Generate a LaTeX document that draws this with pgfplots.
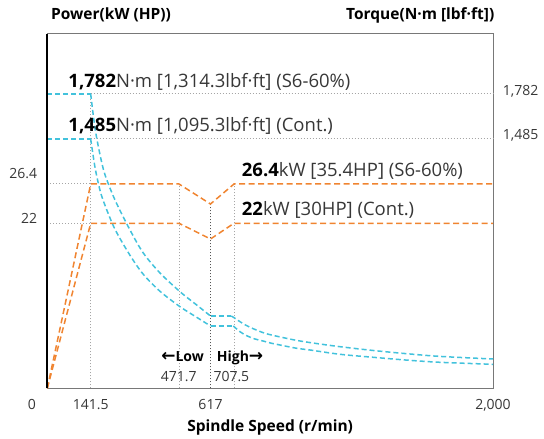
\documentclass[border=0pt]{standalone}
\usepackage{pgfplots}
\pgfplotsset{compat=1.18}
\usepackage{fontspec}
\setmainfont{Open Sans}
\newfontfamily\dv{DejaVu Sans}
\definecolor{pw}{RGB}{240,132,48}
\definecolor{tq}{RGB}{66,194,220}
\definecolor{gl}{RGB}{165,165,165}
\definecolor{gd}{RGB}{85,85,85}
\definecolor{tx}{RGB}{55,55,55}
\definecolor{frame}{RGB}{120,120,120}
\pgfplotsset{
  pwr/.style={draw=pw, line width=1.5pt, dash pattern=on 6pt off 3.5pt, mark=none},
  trq/.style={draw=tq, line width=1.5pt, dash pattern=on 5pt off 3pt, mark=none},
  gdot/.style={draw=gl, line width=1pt, dash pattern=on 1pt off 2pt, mark=none},
  ddot/.style={draw=gd, line width=1.3pt, dash pattern=on 1.5pt off 1.5pt, mark=none},
}
\newcommand{\tk}{\fontsize{14}{16}\selectfont}
\newcommand{\an}{\fontsize{18.5}{21}\selectfont}
\newcommand{\ti}{\fontsize{15.5}{18}\selectfont\bfseries}
\newcommand{\arr}[1]{{\fontsize{17}{18}\selectfont\dv\bfseries #1}}
\begin{document}
\begin{tikzpicture}
\begin{axis}[
  scale only axis, width=445.7pt, height=354.3pt,
  xmin=0, xmax=445.7, ymin=0, ymax=354.3,
  clip=false,
  axis line style={draw=frame, line width=1pt},
  major tick length=0pt,
  xtick={0,43.4,163.2,445.7},
  xticklabels={\makebox[0pt]{\hspace{-30.6pt}0},141.5,617,{2,000}},
  ytick={170.3,214.5},
  yticklabels={22,26.4},
  tick label style={font=\tk, text=tx},
  xticklabel style={anchor=north, yshift=-8pt},
  yticklabel style={anchor=east, xshift=-6.6pt},
  xlabel={Spindle Speed (r/min)},
  xlabel style={at={(axis description cs:0.5,0)}, anchor=base, yshift=-43.7pt, inner sep=0pt, font=\ti},
]
% reference lines
\addplot[gdot] coordinates {(0,204.3) (43.4,204.3)};
\addplot[gdot] coordinates {(0,165) (43.4,165)};
\addplot[gdot] coordinates {(43.4,294.3) (445.7,294.3)};
\addplot[gdot] coordinates {(43.4,249.3) (445.7,249.3)};
\addplot[gdot] coordinates {(43.4,0) (43.4,294.3)};
\addplot[gdot] coordinates {(131.7,0) (131.7,204.3)};
\addplot[gdot] coordinates {(186.7,0) (186.7,204.3)};
\addplot[ddot] coordinates {(163.2,0) (163.2,184.3)};
% power
\addplot[pwr] coordinates {(0,0) (43.4,204.3) (131.7,204.3) (163.2,184.3) (186.7,204.3) (445.7,204.3)};
\addplot[pwr] coordinates {(0,0) (43.4,165) (131.7,165) (163.2,149.3) (186.7,165) (445.7,165)};
% torque S6
\addplot[trq] coordinates {(0,294.3) (43.4,294.3)};
\addplot[trq, smooth] coordinates {(43.4,294.3) (47.7,260.3) (52.7,233.6) (57.7,213.6) (67.7,188.3) (82.7,158.3) (96,135.3) (112.7,115.3) (132.7,96.6) (149.4,83.3) (163.2,72.3)};
\addplot[trq] coordinates {(163.2,72.3) (184,72.3)};
\addplot[trq, smooth] coordinates {(184,72.3) (187.7,70) (194.4,65.5) (202.7,61) (217.7,55) (234.4,51) (251,47.6) (267.7,45) (292.7,41.6) (326,37.8) (359.4,34.6) (392.7,31.9) (445.7,29.3)};
% torque Cont
\addplot[trq] coordinates {(0,249.3) (43.4,249.3)};
\addplot[trq, smooth] coordinates {(43.4,249.3) (47.7,221) (52.7,198) (57.7,183) (67.7,159) (82.7,133) (96,114) (112.7,97) (132.7,81.6) (149.4,71) (163.2,62.3)};
\addplot[trq] coordinates {(163.2,62.3) (186,62.3)};
\addplot[trq, smooth] coordinates {(186,62.3) (192.7,56.6) (199.4,52.6) (207.7,49.3) (215.7,47.3) (224.4,45) (232.7,43.3) (249.4,40) (262.7,38.3) (292.7,34) (326,31) (359.4,28.2) (392.7,26) (445.7,24)};
% left axis line
\draw[black, line width=1.6pt] (rel axis cs:0,0) -- (rel axis cs:0,1);
% annotations
\node[anchor=base west, inner sep=0pt, font=\an, text=tx] at (axis cs:21,300.6) {\textcolor{black}{\bfseries 1,782}N·m [1,314.3lbf·ft] (S6-60\%)};
\node[anchor=base west, inner sep=0pt, font=\an, text=tx] at (axis cs:21,256.6) {\textcolor{black}{\bfseries 1,485}N·m [1,095.3lbf·ft] (Cont.)};
\node[anchor=base west, inner sep=0pt, font=\an, text=tx] at (axis cs:194.4,211.6) {\textcolor{black}{\bfseries 26.4}kW [35.4HP] (S6-60\%)};
\node[anchor=base west, inner sep=0pt, font=\an, text=tx] at (axis cs:194.4,172.3) {\textcolor{black}{\bfseries 22}kW [30HP] (Cont.)};
\node[anchor=base east, inner sep=0pt, font=\tk\bfseries, text=black] at (axis cs:156.7,26.6) {\arr{←}Low};
\node[anchor=base west, inner sep=0pt, font=\tk\bfseries, text=black] at (axis cs:169.4,26.6) {High\arr{→}};
\node[anchor=base east, inner sep=0pt, font=\tk, text=tx] at (axis cs:149.4,6.6) {471.7};
\node[anchor=base west, inner sep=0pt, font=\tk, text=tx] at (axis cs:166,6.6) {707.5};
% titles
\node[anchor=base west, inner sep=0pt, font=\ti, text=black] at (rel axis cs:0,1) [xshift=3.7pt, yshift=14pt] {Power(kW (HP))};
\node[anchor=base east, inner sep=0pt, font=\ti, text=black] at (rel axis cs:1,1) [xshift=1.5pt, yshift=14pt] {Torque(N·m [lbf·ft])};
\coordinate (SW) at (rel axis cs:0,0);
\coordinate (NE) at (rel axis cs:1,1);
\end{axis}
\begin{axis}[
  scale only axis, width=445.7pt, height=354.3pt,
  xmin=0, xmax=445.7, ymin=0, ymax=354.3,
  hide x axis, axis y line*=right, y axis line style={draw=none},
  major tick length=0pt,
  ytick={253.3,297.3}, yticklabels={{1,485},{1,782}},
  yticklabel style={font=\tk, text=tx, anchor=west, xshift=6.3pt},
]
\end{axis}
\pgfresetboundingbox
\path ([xshift=-47.3pt,yshift=-50.7pt]SW) rectangle ([xshift=51pt,yshift=34pt]NE);
\end{tikzpicture}
\end{document}
